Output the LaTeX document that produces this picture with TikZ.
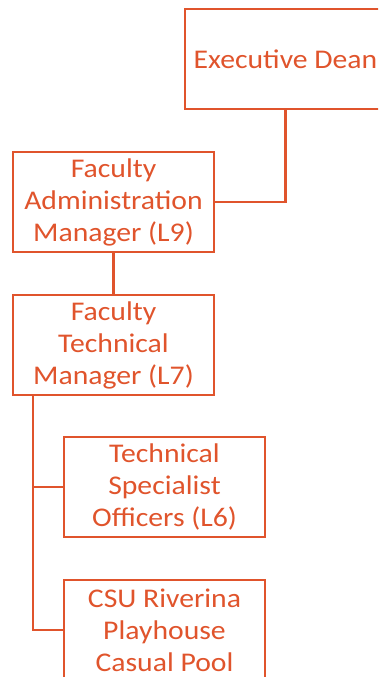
\documentclass[tikz,border=0pt]{standalone}
\usepackage{fontspec}
\setmainfont{Carlito}[FakeStretch=1.1]
\usetikzlibrary{calc}
\usetikzlibrary{positioning}

\definecolor{orgline}{RGB}{224,84,44}

\begin{document}
\begin{tikzpicture}[%
  x=1pt, y=1pt,
  orgbox/.style={draw=orgline, line width=2.5pt, text=orgline,
    minimum width=201pt, minimum height=100pt, inner sep=0pt,
    align=center, font=\fontsize{27}{32}\selectfont},
  orglink/.style={draw=orgline, line width=2.5pt}
]

  \useasboundingbox (0,0) rectangle (378,677);
  \clip (0,0) rectangle (378,677);

  \node[orgbox] (exec) at (285.5,618) {Executive Dean};
  \node[orgbox] (fam) at (113.5,475) {Faculty\\Administration\\Manager (L9)};
  \node[orgbox] (ftm) at (113.5,332) {Faculty\\Technical\\Manager (L7)};
  \node[orgbox] (tso) at (164.5,190) {Technical\\Specialist\\Officers (L6)};
  \node[orgbox] (csu) at (164.5,47) {CSU Riverina\\Playhouse\\Casual Pool};

  \coordinate (trunk) at ([xshift=21pt]ftm.south west);

  \draw[orglink] (exec.south) |- (fam.east);
  \draw[orglink] (fam.south) -- (ftm.north);
  \draw[orglink] (trunk) |- (tso.west);
  \draw[orglink] (trunk) |- (csu.west);

\end{tikzpicture}
\end{document}
